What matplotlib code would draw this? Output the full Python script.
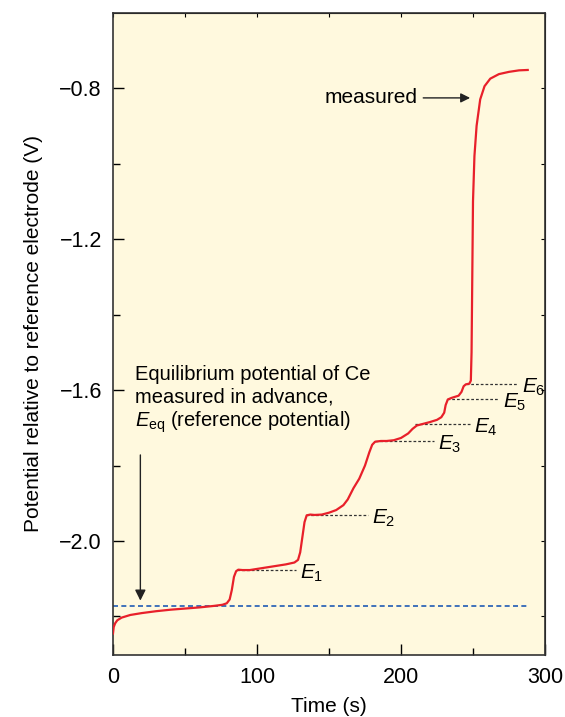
import matplotlib
matplotlib.use("Agg")
import matplotlib.pyplot as plt
from matplotlib.ticker import MultipleLocator

plt.rcParams['font.family'] = ['Liberation Sans', 'DejaVu Sans']
plt.rcParams['mathtext.fontset'] = 'custom'
plt.rcParams['mathtext.rm'] = 'Liberation Sans'
plt.rcParams['mathtext.it'] = 'Liberation Sans:italic'

# measured potential curve
time = [0, 0.5, 1.5, 3, 6, 12, 20, 30, 40, 50, 60, 70, 76, 79, 81, 82.5, 84, 85.5, 87,
        90, 95, 100, 110, 120, 126, 128.5, 130, 131.5, 133, 134.5, 137, 140, 145, 150,
        155, 160, 163, 167, 171, 175, 178, 180, 182, 186, 190, 195, 200, 205, 208, 211,
        215, 220, 225, 228, 230, 231, 232.5, 235, 240, 242, 243.5, 245, 247.5, 248.5,
        249, 249.5, 250, 251, 252.5, 255, 258, 262, 268, 275, 282, 288]
potential = [-2.245, -2.228, -2.218, -2.210, -2.203, -2.196, -2.191, -2.186, -2.182,
             -2.179, -2.176, -2.172, -2.169, -2.165, -2.155, -2.130, -2.095, -2.080,
             -2.076, -2.077, -2.077, -2.074, -2.068, -2.062, -2.057, -2.050, -2.030,
             -1.990, -1.950, -1.932, -1.930, -1.931, -1.930, -1.925, -1.918, -1.905,
             -1.890, -1.860, -1.835, -1.800, -1.765, -1.745, -1.737, -1.735, -1.735,
             -1.733, -1.727, -1.715, -1.703, -1.694, -1.690, -1.685, -1.679, -1.672,
             -1.660, -1.640, -1.625, -1.621, -1.615, -1.605, -1.590, -1.585, -1.583,
             -1.575, -1.50, -1.30, -1.10, -0.98, -0.90, -0.83, -0.795, -0.775, -0.763,
             -0.757, -0.753, -0.752]

# plateau levels E1..E6 : start / end time of the dashed marker and its potential
e_labels = ['$E_1$', '$E_2$', '$E_3$', '$E_4$', '$E_5$', '$E_6$']
e_start = [86, 134, 182, 210, 232, 245]
e_end = [127, 177, 223, 248, 268, 281]
e_value = [-2.077, -1.931, -1.735, -1.690, -1.624, -1.584]

e_eq = -2.172
e_eq_end = 288

fig = plt.figure(figsize=(5.65, 7.17), dpi=100)
ax = fig.add_axes([0.2, 0.0865, 0.7646, 0.8954])
ax.set_facecolor('#fff9de')

ax.plot(time, potential, color='#e8202a', lw=1.6, zorder=3)
ax.plot([0, e_eq_end], [e_eq, e_eq], color='#1f5bb5', lw=1.2, ls=(0, (3, 2)), zorder=2)

for lab, s, e, v in zip(e_labels, e_start, e_end, e_value):
    ax.plot([s, e], [v, v], color='#333333', lw=0.9, ls=(0, (2.2, 1.6)), zorder=2)
    ax.text(e + 3, v - 0.008, lab, fontsize=15, va='center', ha='left')

ax.text(15, -1.535, 'Equilibrium potential of Ce\nmeasured in advance,\n'
        '$E_{\\rm eq}$ (reference potential)',
        fontsize=14.5, va='top', ha='left', linespacing=1.2)
ax.annotate('', xy=(19, -2.158), xytext=(19, -1.772),
            arrowprops=dict(arrowstyle='-|>', color='#222222', lw=1.0,
                            mutation_scale=16, shrinkA=0, shrinkB=0))
ax.annotate('measured', xy=(248, -0.826), xytext=(147, -0.826),
            fontsize=15, va='center', ha='left',
            arrowprops=dict(arrowstyle='-|>', color='#222222', lw=1.0,
                            mutation_scale=14, shrinkA=2, shrinkB=0))

ax.set_xlim(0, 300)
ax.set_ylim(-2.302, -0.601)
ax.xaxis.set_major_locator(MultipleLocator(100))
ax.xaxis.set_minor_locator(MultipleLocator(50))
ax.yaxis.set_major_locator(MultipleLocator(0.4))
ax.yaxis.set_minor_locator(MultipleLocator(0.2))
ax.tick_params(which='major', direction='in', length=8, width=1, labelsize=15.5, pad=9)
ax.tick_params(which='minor', direction='in', length=5, width=1)
ax.tick_params(axis='y', pad=8)

top = ax.secondary_xaxis('top')
top.xaxis.set_major_locator(MultipleLocator(50))
top.tick_params(direction='in', length=3, labeltop=False)
right = ax.secondary_yaxis('right')
right.yaxis.set_major_locator(MultipleLocator(0.2))
right.tick_params(direction='in', length=3, labelright=False)

for sp in ax.spines.values():
    sp.set_color('#333333')
    sp.set_linewidth(1.2)

ax.set_xlabel('Time (s)', fontsize=15, labelpad=6)
ax.set_ylabel('Potential relative to reference electrode (V)', fontsize=15, labelpad=12)

fig.savefig('out.png', dpi=100)
